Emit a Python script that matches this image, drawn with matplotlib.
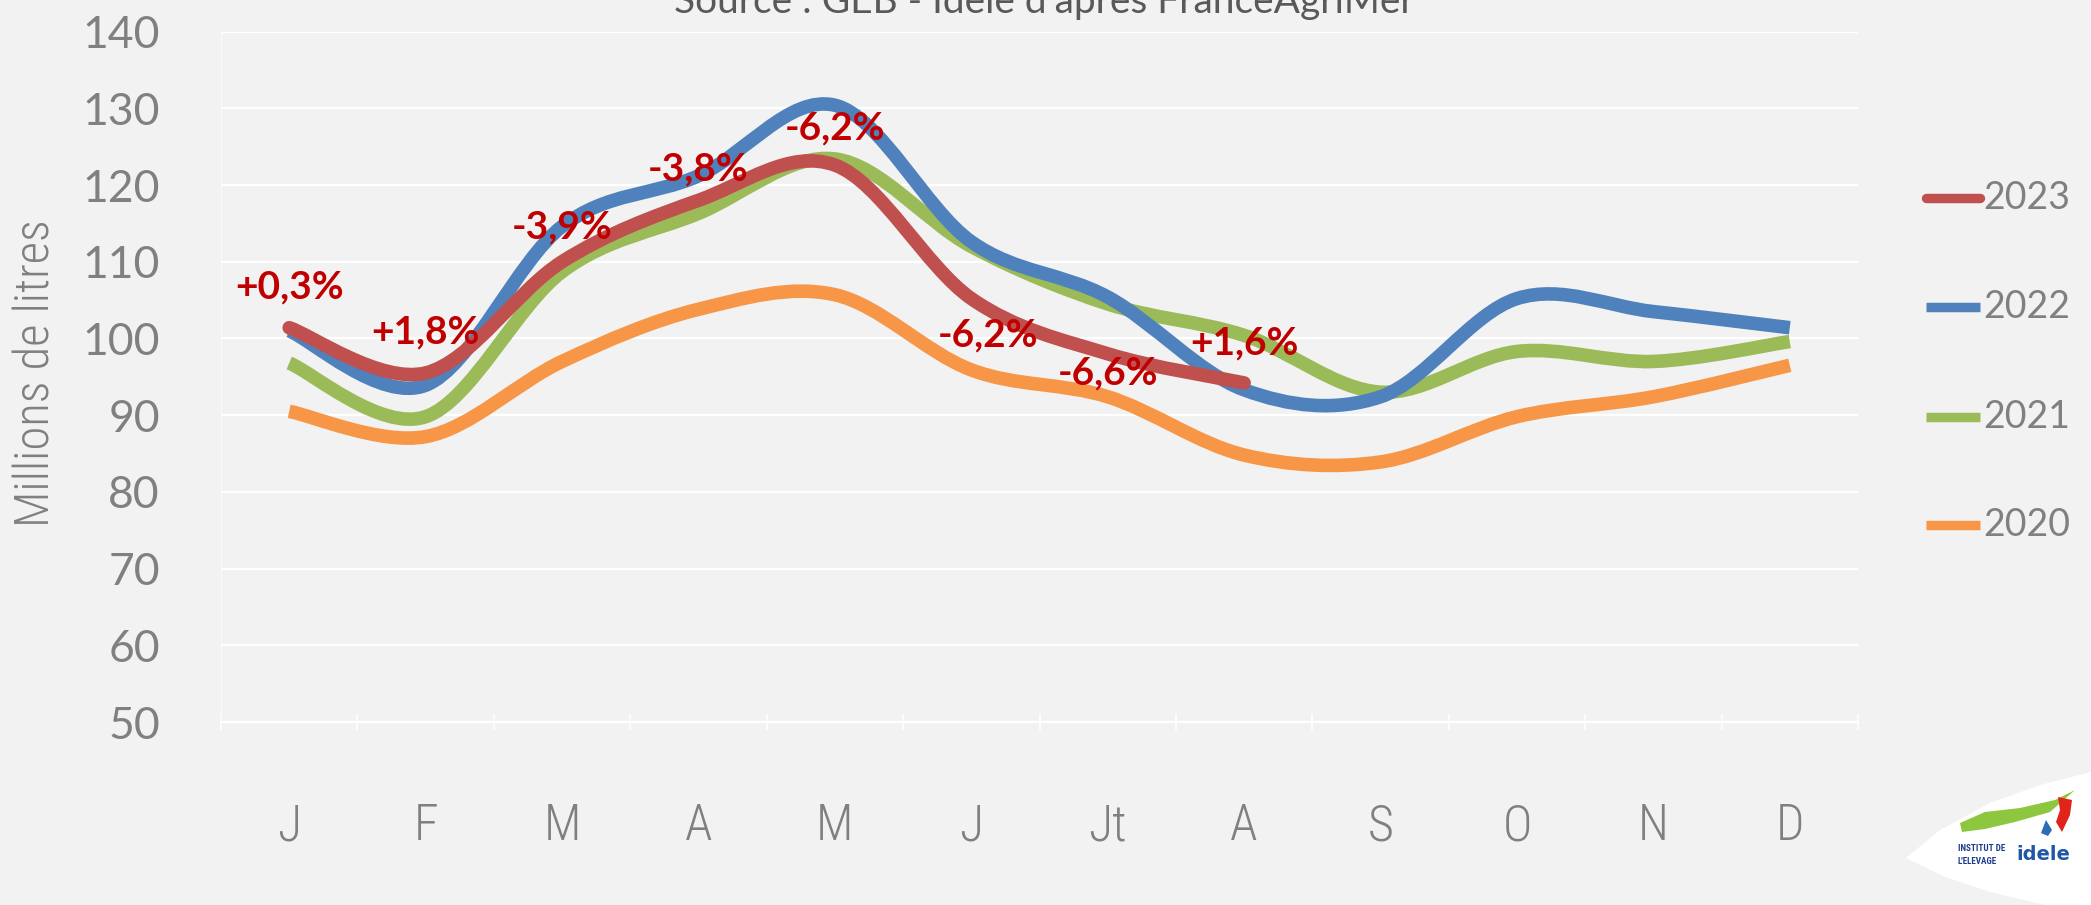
import numpy as np
import matplotlib
matplotlib.use('Agg')
import matplotlib.pyplot as plt
from matplotlib.path import Path
from matplotlib.patches import PathPatch, Polygon
from matplotlib.lines import Line2D

# data (millions de litres)
months = ['J', 'F', 'M', 'A', 'M', 'J', 'Jt', 'A', 'S', 'O', 'N', 'D']
years = ['2023', '2022', '2021', '2020']
colors = ['#C0504D', '#4F81BD', '#9BBB59', '#F79646']

v2023 = [101.4, 95.5, 110.0, 118.0, 122.6, 105.2, 98.0, 94.2]
v2022 = [101.0, 93.9, 114.6, 121.2, 130.4, 112.6, 105.4, 93.3, 92.4, 105.2, 103.5, 101.4]
v2021 = [96.8, 89.8, 108.7, 116.3, 123.4, 112.0, 104.5, 100.4, 93.0, 98.3, 97.0, 99.6]
v2020 = [90.5, 87.2, 97.0, 103.8, 105.7, 95.9, 92.4, 84.8, 83.9, 89.8, 92.4, 96.5]

# evolution 2023 / 2022
pct_labels = ['+0,3%', '+1,8%', '-3,9%', '-3,8%', '-6,2%', '-6,2%', '-6,6%', '+1,6%']
pct_x = [0, 1, 2, 3, 4, 5.12, 6, 7]
pct_y = [106.7, 100.8, 114.5, 122.1, 127.4, 100.5, 95.5, 99.4]

W, H = 2091, 905
BG = '#F2F2F2'
GREY = '#808080'
THIN = ['Roboto Condensed', 'Liberation Sans Narrow', 'Lato', 'DejaVu Sans']


def smooth_path(y):
    # excel-like smoothed line: cubic bezier through every point
    x = np.arange(len(y), dtype=float)
    p = np.column_stack([x, np.asarray(y, dtype=float)])
    n = len(p)
    verts = [p[0]]
    codes = [Path.MOVETO]
    for i in range(n - 1):
        p0 = p[max(i - 1, 0)]
        p3 = p[min(i + 2, n - 1)]
        c1 = p[i] + (p[i + 1] - p0) / 6.0
        c2 = p[i + 1] - (p3 - p[i]) / 6.0
        verts += [c1, c2, p[i + 1]]
        codes += [Path.CURVE4] * 3
    return Path(verts, codes)


fig = plt.figure(figsize=(W / 100, H / 100), dpi=100, facecolor=BG)
ax = fig.add_axes([221 / W, 1 - 722 / H, 1637 / W, 690.4 / H], facecolor=BG)

series = [v2023, v2022, v2021, v2020]
# draw older years first so 2023 stays on top
for vals, col, yr in list(zip(series, colors, years))[::-1]:
    cap = 'round' if yr == '2023' else 'butt'
    patch = PathPatch(smooth_path(vals), facecolor='none', edgecolor=col,
                      lw=9.8, capstyle=cap, joinstyle='round', zorder=3)
    ax.add_patch(patch)

for txt, x, y in zip(pct_labels, pct_x, pct_y):
    ax.text(x, y, txt, ha='center', va='center', color='#C00000',
            fontsize=28, fontweight='bold', family=['Lato', 'DejaVu Sans'], zorder=5)

ax.set_xlim(-0.5, 11.5)
ax.set_ylim(50, 140)
ax.set_yticks(np.arange(50, 141, 10))
ax.set_xticks(np.arange(12))
ax.set_xticklabels(months)
ax.set_xticks(np.arange(-0.5, 12, 1), minor=True)
ax.grid(axis='y', color='white', lw=1.6, zorder=0)
ax.set_axisbelow(True)

for s in ['top', 'right']:
    ax.spines[s].set_visible(False)
ax.spines['left'].set_color('#FAFAFA')
ax.spines['bottom'].set_color('white')
ax.spines['bottom'].set_linewidth(1.6)

ax.tick_params(axis='y', length=0, pad=44, labelsize=32, labelcolor=GREY)
ax.tick_params(axis='x', which='major', length=0, pad=58, labelsize=36, labelcolor=GREY)
ax.tick_params(axis='x', which='minor', length=12, width=1.2, color='white', direction='inout')
for lab in ax.get_yticklabels():
    lab.set_family(['Lato', 'DejaVu Sans'])
for lab in ax.get_xticklabels():
    lab.set_family(THIN)
    lab.set_fontweight('light')

ax.set_ylabel('Millions de litres', fontsize=35, color=GREY, family=THIN,
              fontweight='light', labelpad=20)
ax.yaxis.set_label_coords(-161 / 1637, 0.505)

# title, cut by the top edge as in the slide
fig.text(1044 / W, 1 - 13 / H, "Source : GEB - Idele d'après FranceAgriMer",
         ha='center', va='baseline', fontsize=28, color='#595959',
         family=['Lato', 'DejaVu Sans'])

# legend on the right
leg_rows = [198, 307, 417, 525]
for yr, col, yp in zip(years, colors, leg_rows):
    cap = 'round' if yr == '2023' else 'butt'
    fig.add_artist(Line2D([1926 / W, 1980 / W], [1 - yp / H] * 2, color=col,
                          lw=6.8, solid_capstyle=cap, transform=fig.transFigure))
    fig.text(1983 / W, 1 - yp / H, yr, ha='left', va='center', fontsize=27,
             color=GREY, family=['Lato', 'DejaVu Sans'])

# logo corner
def fpt(pts):
    return [(px / W, 1 - py / H) for px, py in pts]

leaf = fpt([(1906, 858), (1940, 830), (1990, 803), (2040, 785), (2091, 772),
            (2091, 905), (2045, 905), (1990, 892), (1945, 877)])
fig.add_artist(Polygon(leaf, closed=True, facecolor='white', edgecolor='none',
                       transform=fig.transFigure))
swoosh = fpt([(1960, 823), (1985, 812), (2020, 808), (2055, 800), (2075, 790),
              (2050, 812), (2015, 822), (1985, 829), (1962, 832)])
fig.add_artist(Polygon(swoosh, closed=True, facecolor='#8DC63F', edgecolor='none',
                       transform=fig.transFigure))
drop_r = fpt([(2058, 797), (2072, 800), (2070, 815), (2062, 832), (2056, 822), (2060, 810)])
fig.add_artist(Polygon(drop_r, closed=True, facecolor='#E2231A', edgecolor='none',
                       transform=fig.transFigure))
drop_b = fpt([(2046, 820), (2052, 830), (2048, 836), (2041, 833)])
fig.add_artist(Polygon(drop_b, closed=True, facecolor='#2E6DB4', edgecolor='none',
                       transform=fig.transFigure))
fig.text(1958 / W, 1 - 848 / H, 'INSTITUT DE', fontsize=6.6, fontweight='bold',
         color='#1D3E8C', va='center', ha='left', family=THIN)
fig.text(1958 / W, 1 - 861 / H, "L'ELEVAGE", fontsize=6.6, fontweight='bold',
         color='#1D3E8C', va='center', ha='left', family=THIN)
fig.text(2016 / W, 1 - 854 / H, 'idele', fontsize=14, fontweight='bold',
         color='#1F57A5', va='center', ha='left', family=['DejaVu Sans'])

fig.savefig('out.png', dpi=100, facecolor=BG)
